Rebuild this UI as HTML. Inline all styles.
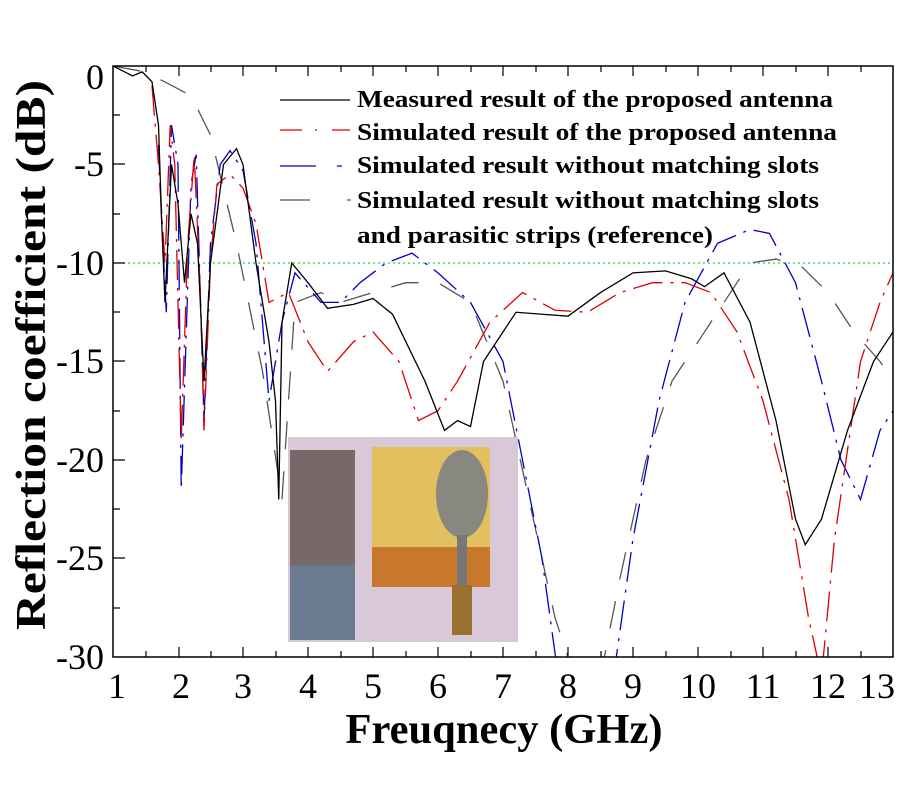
<!DOCTYPE html>
<html><head><style>body{margin:0;background:#fff}svg{display:block}</style></head><body>
<svg width="900" height="800" viewBox="0 0 900 800" font-family="Liberation Serif, serif">
<rect width="900" height="800" fill="#fff"/>
<defs><clipPath id="c"><rect x="113" y="66" width="780" height="591"/></clipPath></defs>
<g clip-path="url(#c)">
<g transform="translate(48,66) scale(65,-19.7)" fill="none" stroke-width="1.3">
<polyline vector-effect="non-scaling-stroke" stroke="#2ecc40" stroke-dasharray="2,3" points="1,-10 13,-10"/>
<polyline vector-effect="non-scaling-stroke" stroke="#555" stroke-dasharray="28,22" points="1,0 1.5,-0.3 2.2,-1.5 2.5,-3.5 2.9,-9 3.3,-15.5 3.6,-22 3.8,-12 4.2,-11.5 4.5,-12 5,-11.5 5.5,-11 6,-11 6.5,-12 7,-16 7.4,-22 7.8,-28 8.1,-31 8.5,-31 8.8,-26 9.2,-20 9.6,-16 10,-14 10.4,-12 10.8,-10 11.2,-9.8 11.6,-10.2 12,-11.5 12.4,-13.5 12.8,-15 13,-16"/>
<polyline vector-effect="non-scaling-stroke" stroke="#0000cc" stroke-dasharray="30,8,3,8" points="1.7,-4 1.75,-8 1.82,-12.5 1.9,-3 2,-5 2.05,-21.5 2.2,-6 2.28,-4.5 2.4,-18 2.5,-9 2.65,-5 2.8,-4.3 3,-5.3 3.2,-9 3.4,-17 3.6,-13 3.8,-10.5 4.2,-12 4.5,-12 4.8,-11 5.2,-10 5.6,-9.5 6,-10.5 6.5,-12 7,-15 7.3,-20 7.6,-25 7.85,-31 8.7,-31 9,-24 9.4,-17 9.8,-12 10.3,-9 10.8,-8.3 11.1,-8.5 11.5,-11 11.9,-16 12.2,-20 12.5,-22 12.8,-18.5 13,-17.5"/>
<polyline vector-effect="non-scaling-stroke" stroke="#d00" stroke-dasharray="30,8,3,8" points="1.6,-1 1.7,-5 1.8,-10 1.88,-3 1.95,-5 2.05,-19 2.15,-9 2.25,-4.5 2.35,-12 2.4,-18.5 2.5,-10 2.6,-6 2.8,-5.5 3,-6.2 3.2,-8 3.4,-12 3.7,-11.5 4,-14 4.3,-15.5 4.7,-14 5,-13.5 5.4,-15 5.7,-18 6,-17.5 6.3,-16 6.8,-13 7.3,-11.5 7.8,-12.4 8.3,-12.5 8.8,-11.5 9.3,-11 9.8,-11 10.2,-11.5 10.6,-13.5 11,-17 11.4,-22 11.7,-28 11.9,-31 12.1,-24 12.5,-15 12.8,-12 13,-10.5"/>
<polyline vector-effect="non-scaling-stroke" stroke="#000" points="1,0 1.3,-0.5 1.45,-0.3 1.6,-0.8 1.7,-3 1.75,-8 1.8,-12 1.9,-5 2,-7 2.1,-11 2.2,-7.5 2.3,-9 2.4,-16 2.5,-10 2.7,-5 2.9,-4.2 3,-5 3.2,-10 3.4,-14 3.5,-17 3.55,-22 3.6,-13 3.75,-10 4,-11 4.3,-12.3 4.7,-12.1 5,-11.8 5.3,-12.6 5.8,-16 6.1,-18.5 6.3,-18 6.5,-18.3 6.7,-15 7.2,-12.5 7.6,-12.6 8,-12.7 8.5,-11.5 9,-10.5 9.5,-10.4 9.9,-10.8 10.1,-11.2 10.4,-10.5 10.8,-13 11.2,-18 11.5,-23 11.65,-24.3 11.9,-23 12.3,-18.5 12.7,-15 13,-13.5"/>
</g>
</g>
<rect x="288" y="437" width="230" height="205" fill="#d8c8d8"/>
<rect x="290" y="450" width="65" height="190" fill="#7a6868"/>
<rect x="290" y="565" width="65" height="75" fill="#6a7a90"/>
<rect x="372" y="447" width="118" height="100" fill="#e2c060"/>
<rect x="372" y="547" width="118" height="40" fill="#c8782a"/>
<ellipse cx="462" cy="494" rx="26" ry="44" fill="#888880"/>
<rect x="457" y="535" width="10" height="50" fill="#777"/>
<rect x="452" y="585" width="20" height="50" fill="#9a7030"/>
<rect x="113" y="66" width="780" height="591" fill="none" stroke="#000" stroke-width="1.5"/>
<g stroke="#000" stroke-width="1.2">
<path d="M146 657v-6M179 657v-10M211 657v-6M243 657v-10M276 657v-6M308 657v-10M341 657v-6M373 657v-10M406 657v-6M438 657v-10M471 657v-6M503 657v-10M536 657v-6M568 657v-10M601 657v-6M633 657v-10M666 657v-6M698 657v-10M731 657v-6M763 657v-10M796 657v-6M828 657v-10M861 657v-6"/>
<path d="M146 66v6M179 66v10M211 66v6M243 66v10M276 66v6M308 66v10M341 66v6M373 66v10M406 66v6M438 66v10M471 66v6M503 66v10M536 66v6M568 66v10M601 66v6M633 66v10M666 66v6M698 66v10M731 66v6M763 66v10M796 66v6M828 66v10M861 66v6"/>
<path d="M113 115h7M113 164h12M113 214h7M113 263h12M113 312h7M113 361h12M113 411h7M113 460h12M113 509h7M113 558h12M113 608h7"/>
</g>
<g font-size="36" text-anchor="end">
<text x="104" y="89">0</text><text x="104" y="176">-5</text><text x="104" y="275">-10</text><text x="104" y="373">-15</text><text x="104" y="472">-20</text><text x="104" y="570">-25</text><text x="104" y="669">-30</text>
</g>
<g font-size="36" text-anchor="middle">
<text x="117" y="698">1</text><text x="181" y="698">2</text><text x="243" y="698">3</text><text x="308" y="698">4</text><text x="373" y="698">5</text><text x="438" y="698">6</text><text x="503" y="698">7</text><text x="568" y="698">8</text><text x="633" y="698">9</text><text x="698" y="698">10</text><text x="763" y="698">11</text><text x="828" y="698">12</text><text x="877" y="698">13</text>
</g>
<text x="504" y="743" font-size="42" font-weight="bold" text-anchor="middle" textLength="317" lengthAdjust="spacingAndGlyphs">Freuqnecy (GHz)</text>
<text transform="translate(45,355) rotate(-90)" font-size="42" font-weight="bold" text-anchor="middle" textLength="550" lengthAdjust="spacingAndGlyphs">Reflection coefficient (dB)</text>
<g fill="none" stroke-width="1.3">
<path d="M280 100h70" stroke="#000"/>
<path d="M280 130h22M315 130h2M332 130h18" stroke="#d00"/>
<path d="M280 166h36M337 166h5" stroke="#0000cc"/>
<path d="M280 200h30M347 200h4" stroke="#555"/>
</g>
<g font-size="24" font-weight="bold">
<text x="357" y="107" textLength="476" lengthAdjust="spacingAndGlyphs">Measured result of the proposed antenna</text>
<text x="357" y="140" textLength="480" lengthAdjust="spacingAndGlyphs">Simulated result of the proposed antenna</text>
<text x="357" y="173" textLength="462" lengthAdjust="spacingAndGlyphs">Simulated result without matching slots</text>
<text x="357" y="208" textLength="462" lengthAdjust="spacingAndGlyphs">Simulated result without matching slots</text>
<text x="357" y="243" textLength="356" lengthAdjust="spacingAndGlyphs">and parasitic strips (reference)</text>
</g>
</svg>
</body></html>
